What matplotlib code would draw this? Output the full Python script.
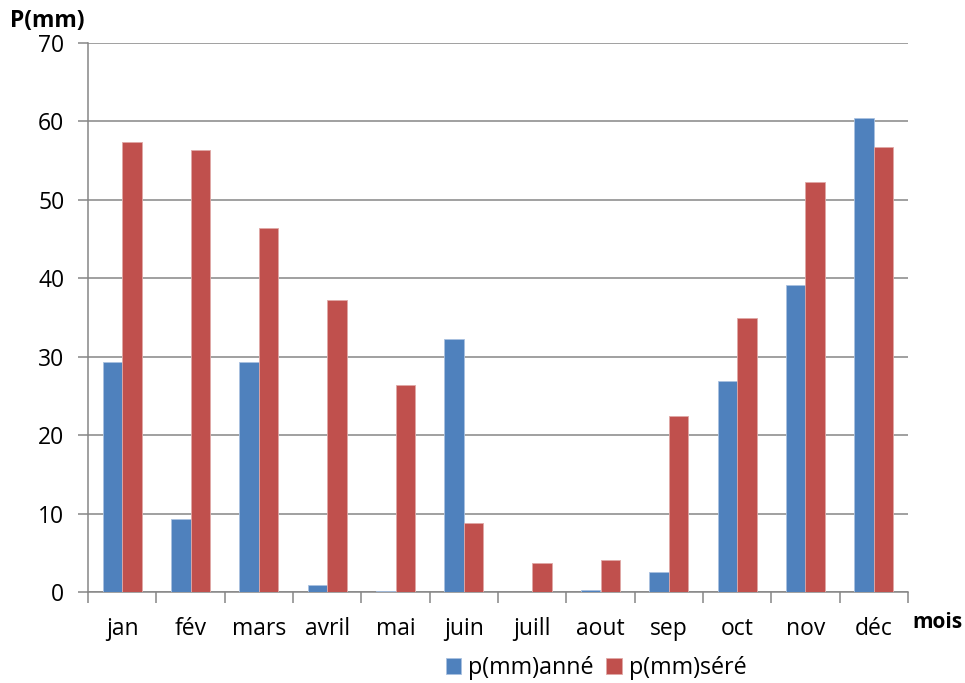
import matplotlib
matplotlib.use("Agg")
import matplotlib.pyplot as plt
import numpy as np

months = ["jan", "fév", "mars", "avril", "mai", "juin", "juill", "aout", "sep", "oct", "nov", "déc"]
p_annee = [29.3, 9.3, 29.3, 0.9, 0.13, 32.2, 0.0, 0.26, 2.5, 26.9, 39.2, 60.4]
p_sere = [57.4, 56.3, 46.4, 37.2, 26.4, 8.8, 3.7, 4.1, 22.4, 35.0, 52.3, 56.8]
series_names = ["p(mm)anné", "p(mm)séré"]
yticks = [0, 10, 20, 30, 40, 50, 60, 70]

plt.rcParams['font.family'] = ['Open Sans', 'DejaVu Sans']

fig = plt.figure(figsize=(9.65, 6.83), dpi=100)
ax = fig.add_axes([88/965, (683-592)/683, (908-88)/965, (592-43)/683])

x = np.arange(len(months))
w = 1/3.5
grid_c = "#868686"
ax.bar(x - w/2, p_annee, w, color="#4F81BD", edgecolor="#a9c1e0", linewidth=0.6, label=series_names[0], zorder=3)
ax.bar(x + w/2, p_sere, w, color="#C0504D", edgecolor="#e0a8a6", linewidth=0.6, label=series_names[1], zorder=3)

fs = 16.5
ax.set_xlim(-0.5, len(months) - 0.5)
ax.set_ylim(0, 70)
ax.set_yticks(yticks)
ax.set_yticklabels([str(v) for v in yticks], fontsize=fs)
ax.yaxis.grid(True, color=grid_c, linewidth=1.1, zorder=0)
ax.set_axisbelow(True)

ax.set_xticks(np.arange(-0.5, len(months)), minor=False)
ax.set_xticklabels([])
ax.set_xticks(x, minor=True)
ax.set_xticklabels(months, minor=True, fontsize=fs)
ax.tick_params(axis='x', which='major', length=8, width=1.1, color=grid_c, direction='out')
ax.tick_params(axis='x', which='minor', length=0, pad=18)
ax.tick_params(axis='y', length=7, width=1.1, color=grid_c, direction='out', pad=10)

for s in ['top', 'right']:
    ax.spines[s].set_visible(False)
for s in ['left', 'bottom']:
    ax.spines[s].set_color(grid_c)
    ax.spines[s].set_linewidth(1.1)

fig.text(10/965, 1 - 21/683, "P(mm)", fontsize=16.5, fontweight='bold', va='center', ha='left')
fig.text(912/965, 1 - 622/683, "mois", fontsize=15, fontweight='bold', va='center', ha='left')

leg = fig.legend(loc='center', bbox_to_anchor=(596/965, 1 - 668/683), ncol=2, frameon=False,
                 fontsize=16.8, handlelength=0.65, handleheight=0.65, handletextpad=0.3, columnspacing=0.55)

fig.savefig("out.png", dpi=100, facecolor="white")
